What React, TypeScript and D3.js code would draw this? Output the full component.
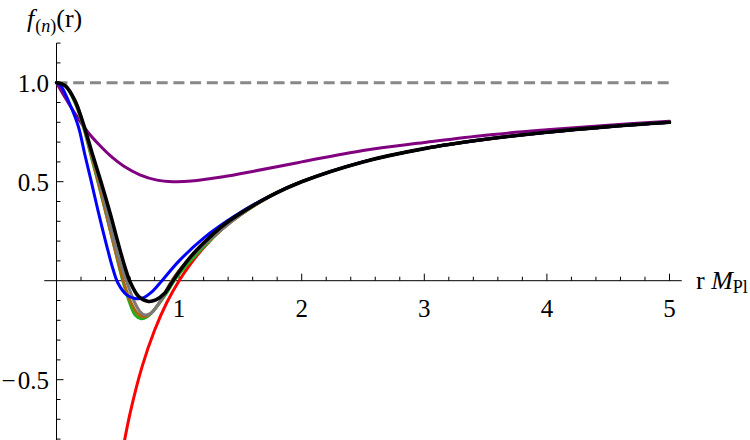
import * as d3 from "d3";

const tailR = [2, 2.5, 3, 3.5, 4, 4.5, 5];
const tailF = [0.5, 0.6, 0.667, 0.714, 0.75, 0.778, 0.8];

const redR = [0.53, 0.6, 0.7, 0.8, 0.9, 1.0, 1.1, 1.2, 1.35, 1.5, 1.75];
const redF = [-0.89, -0.67, -0.43, -0.25, -0.11, 0.0, 0.09, 0.167, 0.26, 0.333, 0.43];

const greenR = [0, 0.07, 0.15, 0.22, 0.29, 0.35, 0.42, 0.48, 0.54, 0.59, 0.64, 0.69, 0.74, 0.8, 0.9, 0.96, 1.05, 1.2, 1.35, 1.5, 1.75];
const greenF = [1, 0.985, 0.9, 0.775, 0.61, 0.47, 0.3, 0.15, 0.0, -0.1, -0.172, -0.192, -0.182, -0.145, -0.06, 0.0, 0.07, 0.17, 0.26, 0.333, 0.43];

const brownR = [0, 0.07, 0.15, 0.22, 0.29, 0.36, 0.42, 0.48, 0.545, 0.6, 0.66, 0.71, 0.76, 0.84, 0.94, 1.02, 1.13, 1.3, 1.5, 1.75];
const brownF = [1, 0.985, 0.905, 0.78, 0.62, 0.45, 0.3, 0.15, 0.0, -0.1, -0.165, -0.182, -0.17, -0.11, 0.0, 0.065, 0.14, 0.235, 0.333, 0.43];

const grayR = [0, 0.07, 0.15, 0.22, 0.29, 0.36, 0.43, 0.5, 0.57, 0.63, 0.68, 0.72, 0.77, 0.85, 0.945, 1.02, 1.13, 1.3, 1.5, 1.75];
const grayF = [1, 0.988, 0.91, 0.79, 0.635, 0.475, 0.3, 0.13, 0.0, -0.1, -0.155, -0.173, -0.165, -0.1, 0.0, 0.065, 0.14, 0.235, 0.333, 0.43];

const blueR = [0, 0.03, 0.12, 0.18, 0.23, 0.28, 0.34, 0.41, 0.46, 0.5, 0.57, 0.64, 0.7, 0.78, 0.86, 1.0, 1.2, 1.45, 1.7];
const blueF = [1, 0.99, 0.875, 0.775, 0.64, 0.51, 0.35, 0.175, 0.06, -0.01, -0.07, -0.09, -0.088, -0.055, 0.0, 0.1, 0.215, 0.325, 0.415];

const blackR = [0, 0.07, 0.15, 0.22, 0.29, 0.36, 0.44, 0.5, 0.56, 0.6, 0.67, 0.75, 0.81, 0.88, 0.94, 1.0, 1.1, 1.2, 1.35, 1.5, 1.75];
const blackF = [1, 0.985, 0.91, 0.79, 0.645, 0.505, 0.335, 0.195, 0.065, -0.005, -0.08, -0.105, -0.097, -0.065, -0.01, 0.045, 0.125, 0.19, 0.275, 0.34, 0.43];

const purpleR = [0, 0.08, 0.15, 0.25, 0.35, 0.45, 0.55, 0.68, 0.82, 0.95, 1.1, 1.36, 1.6, 2, 2.5, 3, 3.5, 4, 4.5, 5];
const purpleF = [1, 0.915, 0.845, 0.755, 0.685, 0.625, 0.578, 0.535, 0.508, 0.5, 0.503, 0.525, 0.552, 0.6, 0.658, 0.698, 0.735, 0.762, 0.785, 0.805];

const xTickLabels = ["1", "2", "3", "4", "5"];
const yTickValues = [-0.5, 0.5, 1.0];
const yTickLabels = ["\u2212\u200a0.5", "0.5", "1.0"];

const W = 750;
const H = 440;

const series = [
  { r: purpleR, f: purpleF, color: "#800080", w: 3 },
  { r: redR.concat(tailR), f: redF.concat(tailF), color: "#ff0000", w: 3 },
  { r: greenR.concat(tailR), f: greenF.concat(tailF), color: "#1fb01f", w: 3 },
  { r: brownR.concat(tailR), f: brownF.concat(tailF), color: "#b0650c", w: 3 },
  { r: grayR.concat(tailR), f: grayF.concat(tailF), color: "#7a7a7a", w: 3 },
  { r: blueR.concat(tailR), f: blueF.concat(tailF), color: "#0000ff", w: 3 },
  { r: blackR.concat(tailR), f: blackF.concat(tailF), color: "#000000", w: 3.6 },
];

export default function App() {
  const x = d3.scaleLinear().domain([0, 5]).range([56.5, 669.5]);
  const y = d3.scaleLinear().domain([0, 1]).range([280.7, 82.7]);

  const line = d3
    .line<[number, number]>()
    .x((d) => x(d[0]))
    .y((d) => y(d[1]))
    .curve(d3.curveCatmullRom.alpha(0.5));

  const xMinor = d3.range(1, 26).map((i) => i * 0.2).filter((v) => Math.abs(v - Math.round(v)) > 1e-6);
  const xMajor = [1, 2, 3, 4, 5];
  const yMinor = d3.range(-8, 13).map((i) => i / 10).filter((v) => Math.abs(v * 2 - Math.round(v * 2)) > 1e-6);

  const font = '"Liberation Serif", "Times New Roman", Times, serif';

  return (
    <svg
      width={W}
      height={H}
      style={{ position: "absolute", left: 0, top: 0, background: "#fff", fontFamily: font }}
    >
      <defs>
        <clipPath id="plotclip">
          <rect x={0} y={0} width={W} height={H} />
        </clipPath>
      </defs>

      {/* axes */}
      <g stroke="#000" strokeWidth={1}>
        <line x1={x(-0.1)} x2={x(5.1)} y1={y(0)} y2={y(0)} />
        <line x1={x(0)} x2={x(0)} y1={y(1.2)} y2={H} />
        {xMinor.map((v) => (
          <line key={"xm" + v} x1={x(v)} x2={x(v)} y1={y(0)} y2={y(0) - 4} />
        ))}
        {xMajor.map((v) => (
          <line key={"xM" + v} x1={x(v)} x2={x(v)} y1={y(0)} y2={y(0) - 7} />
        ))}
        {yMinor.map((v) => (
          <line key={"ym" + v} x1={x(0)} x2={x(0) + 4} y1={y(v)} y2={y(v)} />
        ))}
        {yTickValues.map((v) => (
          <line key={"yM" + v} x1={x(0)} x2={x(0) + 7} y1={y(v)} y2={y(v)} />
        ))}
      </g>

      {/* tick labels */}
      <g fontSize={25} fill="#000">
        {xMajor.map((v, i) => (
          <text key={"xl" + v} x={x(v)} y={y(0) + 36} textAnchor="middle">
            {xTickLabels[i]}
          </text>
        ))}
        {yTickValues.map((v, i) => (
          <text key={"yl" + v} x={49} y={y(v) + 9} textAnchor="end">
            {yTickLabels[i]}
          </text>
        ))}
      </g>

      {/* reference line f = 1 */}
      <line
        x1={x(0)}
        x2={x(5)}
        y1={y(1)}
        y2={y(1)}
        stroke="#888"
        strokeWidth={3}
        strokeDasharray="11 5.7"
      />

      {/* curves */}
      <g clipPath="url(#plotclip)" fill="none" strokeLinejoin="round" strokeLinecap="round">
        {series.map((s, i) => (
          <path
            key={i}
            d={line(s.r.map((r, j) => [r, s.f[j]] as [number, number])) || ""}
            stroke={s.color}
            strokeWidth={s.w}
          />
        ))}
      </g>

      {/* axis labels */}
      <text x={696} y={289} fontSize={26} fill="#000">
        r <tspan fontStyle="italic">M</tspan>
        <tspan fontSize={18} dy={4}>Pl</tspan>
      </text>
      <text x={27} y={27} fontSize={26} fill="#000">
        <tspan fontStyle="italic">f</tspan>
        <tspan fontSize={18} dy={5} dx={1}>(</tspan>
        <tspan fontSize={18} fontStyle="italic">n</tspan>
        <tspan fontSize={18}>)</tspan>
        <tspan dy={-5}>(r)</tspan>
      </text>
    </svg>
  );
}
